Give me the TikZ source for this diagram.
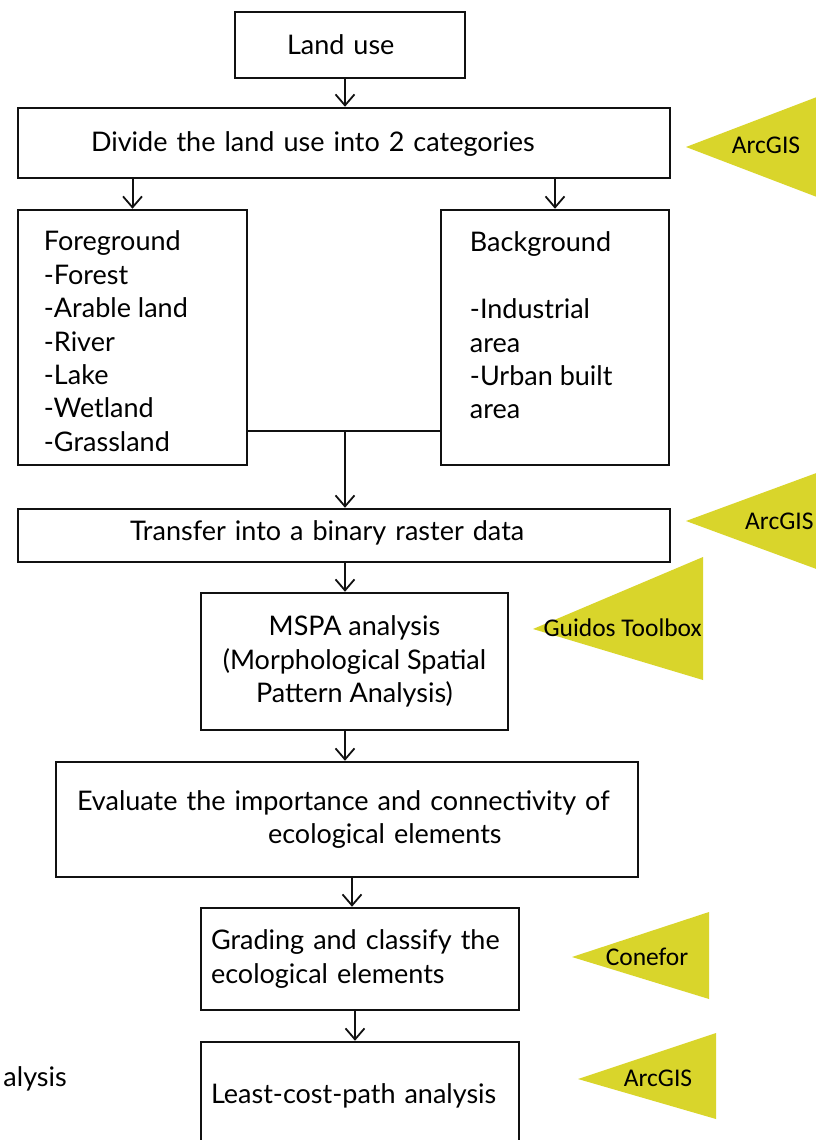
\documentclass[tikz,border=0pt]{standalone}
\usepackage{fontspec}
\setmainfont{Lato}
\newfontfamily\toolfont{Carlito}
\usetikzlibrary{arrows.meta}
\definecolor{toolyellow}{HTML}{D9D52B}
\definecolor{boxline}{HTML}{111111}

\begin{document}
\begin{tikzpicture}[x=1pt,y=-1pt]
      % Styles
      \tikzstyle{box} = [draw=boxline, line width=2.5pt, inner sep=0pt, font=\fontsize{27}{33.4}\selectfont]
      \tikzstyle{flow} = [-{Straight Barb[length=11pt,width=19pt,line width=1.8pt]}, line width=2pt, color=boxline]
      \tikzstyle{listtext} = [inner sep=0pt, align=left, anchor=north west, font=\fontsize{27}{33.4}\selectfont]
      \tikzstyle{tool} = [fill=toolyellow]
      \tikzstyle{toollabel} = [inner sep=0pt, font=\toolfont\fontsize{25.5}{28}\selectfont]

      \useasboundingbox[fill=white] (0,0) rectangle (816,1140);

      % Main boxes
      \node[box, minimum width=230, minimum height=66, inner xsep=52pt, text width=126pt, align=left] (land) at (350,45) {Land use};
      \node[box, minimum width=652, minimum height=70, inner xsep=73pt, text width=506pt, align=left] (divide) at (344,143) {\raisebox{-8pt}[0pt][0pt]{Divide the land use into 2 categories}};
      \node[box, minimum width=229, minimum height=255] (fore) at (132.5,337.5) {};
      \node[box, minimum width=228, minimum height=255] (back) at (555,337.5) {};
      \node[listtext] (foretext) at ([shift={(27,22)}]fore.north west) {Foreground\\-Forest\\-Arable land\\-River\\-Lake\\-Wetland\\-Grassland};
      \node[listtext] (backtext) at ([shift={(30,23)}]back.north west) {Background\\[33.4pt]-Industrial\\area\\-Urban built\\area};
      \node[box, minimum width=652, minimum height=53, inner xsep=112pt, text width=428pt, align=left] (transfer) at (344,535.5) {\raisebox{-5pt}[0pt][0pt]{Transfer into a binary raster data}};
      \node[box, minimum width=307, minimum height=137, align=center] (mspa) at (354.5,661.5) {MSPA analysis\\(Morphological Spatial\\Pattern Analysis)};
      \node[box, minimum width=582, minimum height=115, inner xsep=21pt, text width=540pt, align=left] (evaluate) at (347,819.5) {Evaluate the importance and connectivity of\\\hspace*{191pt}ecological elements};
      \node[box, minimum width=318, minimum height=102, inner xsep=10pt, text width=298pt, align=left] (grading) at (360,959) {Grading and classify the\\ecological elements};
      \node[box, minimum width=318, minimum height=108, inner xsep=10pt, text width=298pt, align=left] (lcp) at (360,1096) {Least-cost-path analysis};

      % Text at the left edge
      \node[inner sep=0pt, anchor=east, font=\fontsize{27}{33}\selectfont] (side) at (67,1079) {alysis};

      % Connectors
      \coordinate (merge) at (345,431);
      \draw[flow] ([xshift=-5pt]land.south) -- ([xshift=-5pt]land.south |- divide.north);
      \draw[flow] (divide.south -| fore.north) -- (fore.north);
      \draw[flow] (divide.south -| back.north) -- (back.north);
      \draw[line width=2.5pt, color=boxline] (fore.east |- merge) -- (back.west |- merge);
      \draw[flow] (merge) -- (merge |- transfer.north);
      \draw[flow] (transfer.south -| merge) -- (mspa.north -| merge);
      \draw[flow] (mspa.south -| merge) -- (evaluate.north -| merge);
      \draw[flow] ([xshift=-8pt]grading.north |- evaluate.south) -- ([xshift=-8pt]grading.north);
      \draw[flow] ([xshift=-5pt]grading.south) -- ([xshift=-5pt]lcp.north);

      % Tool markers
      \fill[tool] (686,147) -- (830,92) -- (830,202) -- cycle;
      \node[toollabel] (arcgisA) at (766,145) {ArcGIS};
      \fill[tool] (686,521) -- (830,468) -- (830,574) -- cycle;
      \node[toollabel, anchor=west] (arcgisB) at (745,521) {ArcGIS};
      \fill[tool] (533,629) -- (703,557) -- (703,680) -- cycle;
      \node[toollabel, anchor=east] (guidos) at (702,628) {Guidos Toolbox};
      \fill[tool] (572,957) -- (709,912) -- (709,999) -- cycle;
      \node[toollabel] (conefor) at (647,957) {Conefor};
      \fill[tool] (578,1079) -- (716,1033) -- (716,1119) -- cycle;
      \node[toollabel] (arcgisC) at (658,1078) {ArcGIS};

    \end{tikzpicture}
\end{document}
